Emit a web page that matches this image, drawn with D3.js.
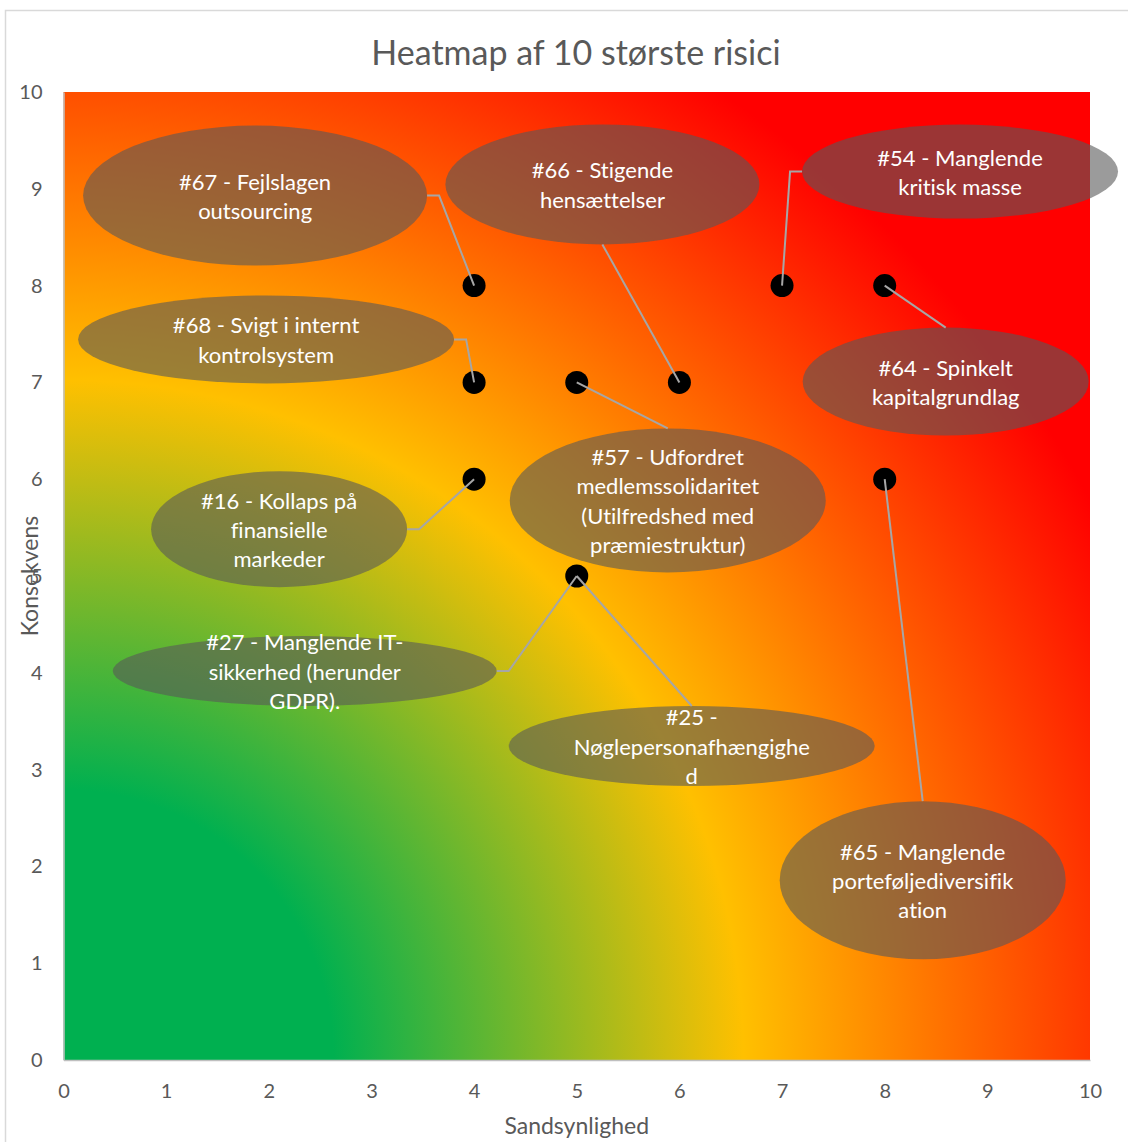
<!DOCTYPE html>
<html>
<head>
<meta charset="utf-8">
<script src="https://cdn.jsdelivr.net/npm/d3@7"></script>
<style>
  body { margin: 0; background: #ffffff; }
  svg { display: block; }
  text { font-family: Lato, "Open Sans", sans-serif; font-variant-ligatures: none; font-feature-settings: "liga" 0, "clig" 0; }
</style>
</head>
<body>
<svg id="chart" width="1128" height="1142"></svg>
<script>
// ---- Data -------------------------------------------------------------
const riskIds = ["#67", "#66", "#54", "#64", "#68", "#57", "#16", "#27", "#25", "#65"];
const riskLabelLines = [
  ["#67 - Fejlslagen", "outsourcing"],
  ["#66 - Stigende", "hensættelser"],
  ["#54 - Manglende", "kritisk masse"],
  ["#64 - Spinkelt", "kapitalgrundlag"],
  ["#68 - Svigt i internt", "kontrolsystem"],
  ["#57 - Udfordret", "medlemssolidaritet", "(Utilfredshed med", "præmiestruktur)"],
  ["#16 - Kollaps på", "finansielle", "markeder"],
  ["#27 - Manglende IT-", "sikkerhed (herunder", "GDPR)."],
  ["#25 -", "Nøglepersonafhængighe", "d"],
  ["#65 - Manglende", "porteføljediversifik", "ation"]
];
const likelihood  = [4, 6, 7, 8, 4, 5, 4, 5, 5, 8];   // Sandsynlighed
const consequence = [8, 7, 8, 8, 7, 7, 6, 5, 5, 6];   // Konsekvens
const xTickValues = [0, 1, 2, 3, 4, 5, 6, 7, 8, 9, 10];
const yTickValues = [0, 1, 2, 3, 4, 5, 6, 7, 8, 9, 10];
const chartTitle = "Heatmap af 10 største risici";
const xAxisTitle = "Sandsynlighed";
const yAxisTitle = "Konsekvens";

// ---- Callout layout (offset from the marker, ellipse radii, leader side) ----
const calloutLayout = [
  { dx: -219, dy: -90,  rx: 172, ry: 70, side: "right"  },
  { dx: -77,  dy: -198, rx: 157, ry: 60, side: "bottom" },
  { dx: 178,  dy: -114, rx: 158, ry: 47, side: "left"   },
  { dx: 61,   dy: 96,   rx: 143, ry: 54, side: "top"    },
  { dx: -208, dy: -43,  rx: 188, ry: 44, side: "right"  },
  { dx: 91,   dy: 118,  rx: 158, ry: 72, side: "top"    },
  { dx: -195, dy: 50,   rx: 128, ry: 58, side: "right"  },
  { dx: -272, dy: 95,   rx: 192, ry: 35, side: "right"  },
  { dx: 115,  dy: 170,  rx: 183, ry: 40, side: "top"    },
  { dx: 38,   dy: 401,  rx: 143, ry: 79, side: "top"    }
];

const risks = riskIds.map((id, i) => ({
  id, lines: riskLabelLines[i], x: likelihood[i], y: consequence[i], layout: calloutLayout[i]
}));

// ---- Frame ------------------------------------------------------------
const svg = d3.select("#chart");
const plot = { left: 63.5, right: 1090, top: 92, bottom: 1060 };

const x = d3.scaleLinear().domain([0, 10]).range([plot.left, plot.right]);
const y = d3.scaleLinear().domain([0, 10]).range([plot.bottom, plot.top]);

svg.append("rect")
  .attr("x", 5.5).attr("y", 10.5)
  .attr("width", 1200).attr("height", 1200)
  .attr("fill", "#ffffff").attr("stroke", "#d9d9d9").attr("stroke-width", 1.5);

// ---- Background heat gradient (radiates from the origin) ----------------
const defs = svg.append("defs");
const reach = 1170;
const grad = defs.append("radialGradient")
  .attr("id", "heat")
  .attr("gradientUnits", "userSpaceOnUse")
  .attr("cx", x(0)).attr("cy", y(0))
  .attr("fx", x(0)).attr("fy", y(0))
  .attr("r", reach);
[
  [0, "#00B050"],
  [270 / reach, "#00B050"],
  [680 / reach, "#FFC000"],
  [1, "#FF0000"]
].forEach(([o, c]) => grad.append("stop").attr("offset", o).attr("stop-color", c));

svg.append("rect")
  .attr("x", plot.left).attr("y", plot.top)
  .attr("width", plot.right - plot.left).attr("height", plot.bottom - plot.top)
  .attr("fill", "url(#heat)");

// ---- Axes -------------------------------------------------------------
const xAxis = svg.append("g")
  .attr("transform", `translate(0,${plot.bottom})`)
  .call(d3.axisBottom(x).tickValues(xTickValues).tickSize(0).tickPadding(24).tickFormat(d3.format("d")));
const yAxis = svg.append("g")
  .attr("transform", `translate(${plot.left},0)`)
  .call(d3.axisLeft(y).tickValues(yTickValues).tickSize(0).tickPadding(21).tickFormat(d3.format("d")));

[xAxis, yAxis].forEach(g => {
  g.select(".domain").attr("stroke", "#bfbfbf").attr("stroke-width", 1.5);
  g.selectAll("text").attr("fill", "#595959").attr("font-size", 20)
    .attr("font-family", "Lato, 'Open Sans', sans-serif");
});

svg.append("text")
  .attr("x", (plot.left + plot.right) / 2).attr("y", 1134)
  .attr("text-anchor", "middle").attr("fill", "#595959").attr("font-size", 23)
  .text(xAxisTitle);

svg.append("text")
  .attr("transform", `translate(38,${(plot.top + plot.bottom) / 2}) rotate(-90)`)
  .attr("text-anchor", "middle").attr("fill", "#595959").attr("font-size", 23)
  .text(yAxisTitle);

svg.append("text")
  .attr("x", 576).attr("y", 65)
  .attr("text-anchor", "middle").attr("fill", "#595959").attr("font-size", 34)
  .text(chartTitle);

// ---- Callouts, markers and leader lines --------------------------------
const callout = svg.append("g").selectAll("g")
  .data(risks).join("g")
  .attr("transform", d => `translate(${x(d.x) + d.layout.dx},${y(d.y) + d.layout.dy})`);

callout.append("ellipse")
  .attr("rx", d => d.layout.rx).attr("ry", d => d.layout.ry)
  .attr("fill", "#595959").attr("fill-opacity", 0.6);

// markers: one per distinct position
const markerKeys = Array.from(new Set(risks.map(d => d.x + "," + d.y)));
svg.append("g").selectAll("circle")
  .data(markerKeys.map(k => k.split(",").map(Number)))
  .join("circle")
  .attr("cx", d => x(d[0])).attr("cy", d => y(d[1]))
  .attr("r", 11.5).attr("fill", "#000000");

function leaderPath(d) {
  const px = x(d.x), py = y(d.y);
  const cx = px + d.layout.dx, cy = py + d.layout.dy;
  const { rx, ry, side } = d.layout;
  const stub = 12;
  switch (side) {
    case "right":  return [[cx + rx, cy], [cx + rx + stub, cy], [px, py]];
    case "left":   return [[cx - rx, cy], [cx - rx - stub, cy], [px, py]];
    case "top":    return [[cx, cy - ry], [px, py]];
    default:       return [[cx, cy + ry], [px, py]];
  }
}

svg.append("g").selectAll("path")
  .data(risks).join("path")
  .attr("d", d => d3.line()(leaderPath(d)))
  .attr("fill", "none").attr("stroke", "#a6a6a6").attr("stroke-width", 2);

const lineHeight = 29.5;
callout.append("text")
  .attr("text-anchor", "middle").attr("fill", "#ffffff").attr("font-size", 22)
  .selectAll("tspan")
  .data(d => d.lines.map((t, i) => ({ t, i, n: d.lines.length })))
  .join("tspan")
  .attr("x", 0)
  .attr("y", l => (l.i - (l.n - 1) / 2) * lineHeight)
  .attr("dy", "0.4em")
  .text(l => l.t);
</script>
</body>
</html>
